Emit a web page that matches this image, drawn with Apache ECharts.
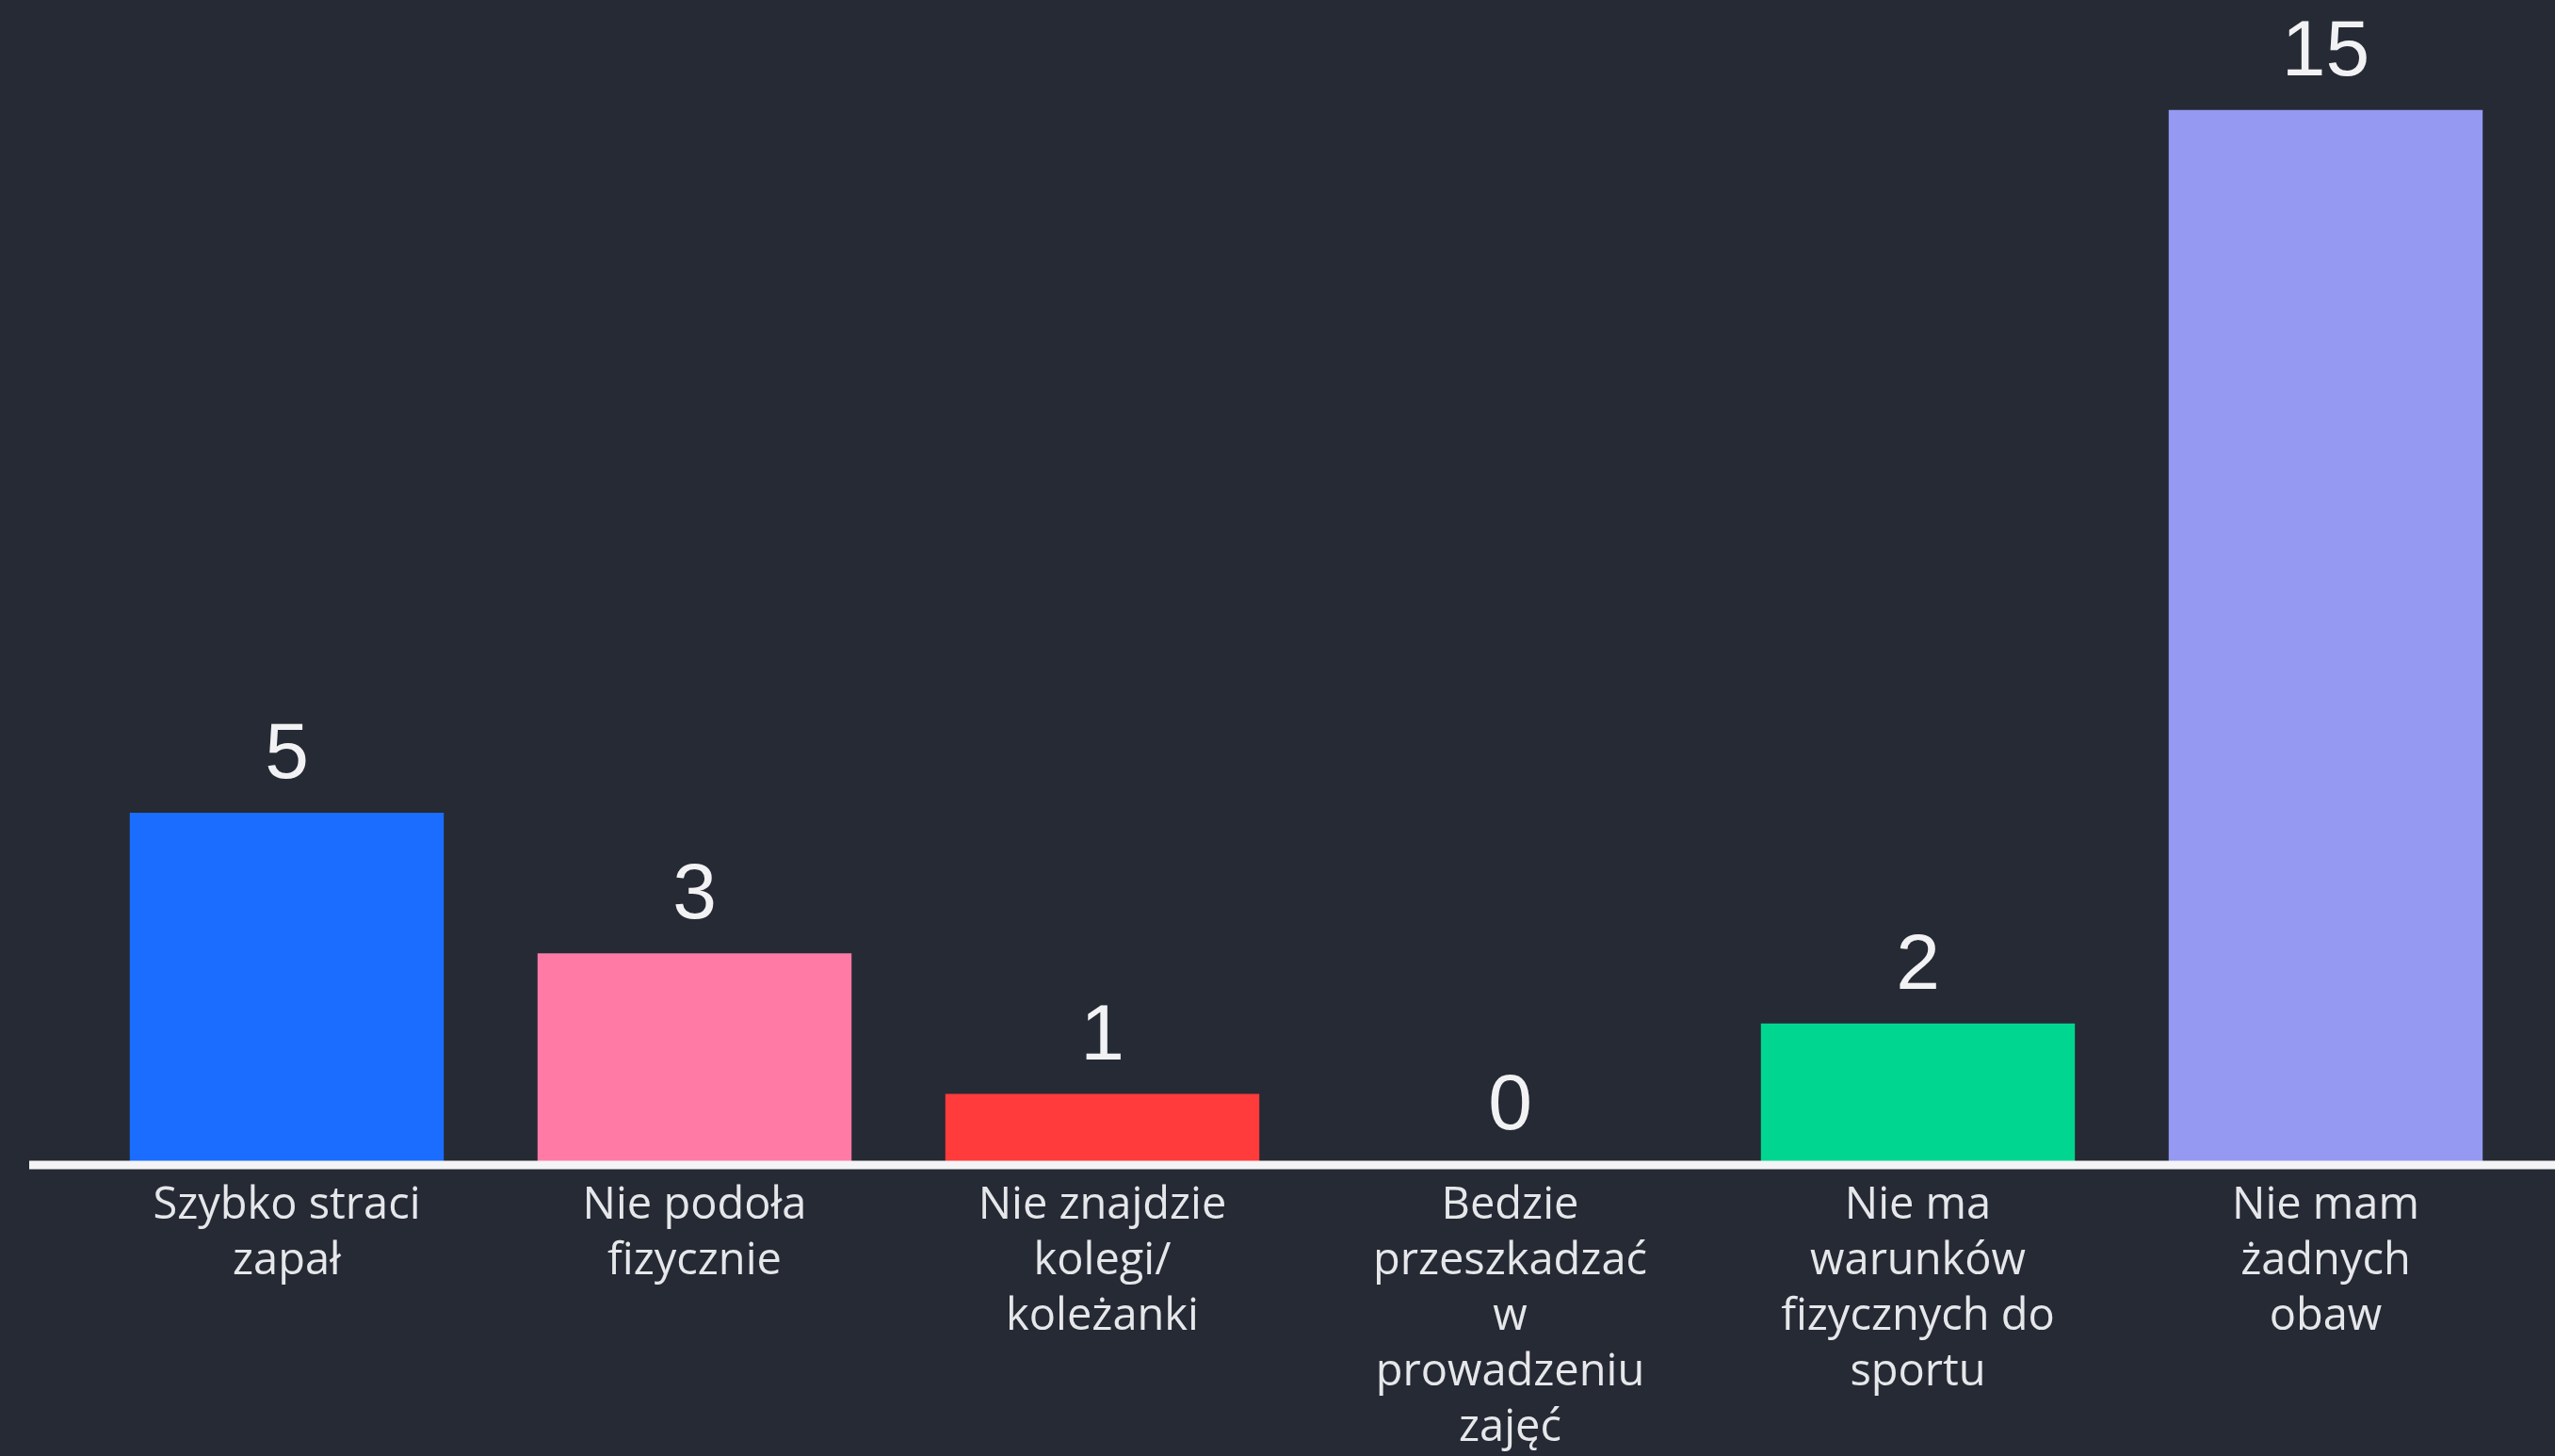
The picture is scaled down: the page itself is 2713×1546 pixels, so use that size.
<!DOCTYPE html>
<html><head><meta charset="utf-8">
<script src="https://cdn.jsdelivr.net/npm/echarts@6/dist/echarts.min.js"></script>
<style>html,body{margin:0;padding:0;background:#262a34;}#c{width:2713px;height:1546px;}</style>
</head><body><div id="c"></div>
<script>
const categories = [
  "Szybko straci\nzapał",
  "Nie podoła\nfizycznie",
  "Nie znajdzie\nkolegi/\nkoleżanki",
  "Bedzie\nprzeszkadzać\nw\nprowadzeniu\nzajęć",
  "Nie ma\nwarunków\nfizycznych do\nsportu",
  "Nie mam\nżadnych\nobaw"
];
const values = [5, 3, 1, 0, 2, 15];
const colors = ["#1a6dff", "#ff7ba6", "#ff3b3b", "#9599f2", "#00d68f", "#9599f2"];

const chart = echarts.init(document.getElementById('c'), null, {renderer: 'canvas'});
const option = {
  backgroundColor: '#262a34',
  animation: false,
  grid: {left: 88, right: 27, top: 42, bottom: 302, containLabel: false},
  xAxis: {
    type: 'category',
    data: categories,
    axisLine: {show: false},
    axisTick: {show: false},
    axisLabel: {
      color: '#e6e7ea',
      fontFamily: 'Open Sans',
      fontSize: 47,
      lineHeight: 59,
      margin: 15,
      interval: 0
    }
  },
  yAxis: {
    type: 'value', min: 0, max: 16, interval: 1,
    show: false,
    splitLine: {show: false}
  },
  series: [{
    type: 'bar',
    barCategoryGap: '23%',
    data: values.map((v, i) => ({value: v, itemStyle: {color: colors[i]}})),
    label: {
      show: true,
      position: 'top',
      distance: 18,
      color: '#f2f2f4',
      fontFamily: 'Liberation Sans',
      fontSize: 84
    }
  }]
};
chart.setOption(option);
const y0 = chart.convertToPixel({yAxisIndex: 0}, 0);
chart.setOption({
  graphic: [{
    type: 'line', z: 100,
    shape: {x1: 31, y1: y0 + 1, x2: 2713, y2: y0 + 1},
    style: {stroke: '#f4f4f6', lineWidth: 9}
  }]
});
</script></body></html>
